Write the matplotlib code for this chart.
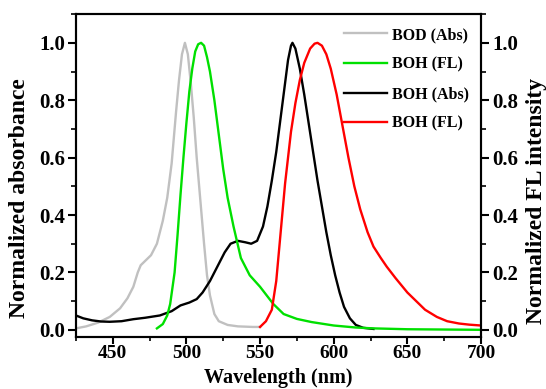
import matplotlib
matplotlib.use("Agg")
import matplotlib.pyplot as plt
from matplotlib.ticker import MultipleLocator

# ---------- data ----------
bod_abs_x = [425, 432, 440, 448, 455, 460, 464, 467, 469, 472, 476, 480, 484, 487, 490,
             493, 495, 497, 499, 501, 503, 505, 507, 510, 512, 514, 516, 519, 522, 528,
             535, 545, 550]
bod_abs_y = [0.005, 0.012, 0.025, 0.045, 0.075, 0.11, 0.15, 0.2, 0.225, 0.24, 0.26, 0.3,
             0.38, 0.46, 0.58, 0.76, 0.87, 0.96, 1.0, 0.96, 0.86, 0.74, 0.6, 0.42, 0.3,
             0.19, 0.12, 0.055, 0.03, 0.017, 0.012, 0.01, 0.01]

boh_fl1_x = [480, 484, 487, 489, 492, 494, 496, 498, 500, 502, 504, 506, 508, 510, 512,
             514, 516, 519, 522, 525, 528, 532, 537, 543, 550, 559, 566, 575, 585, 600,
             615, 627, 650, 700]
boh_fl1_y = [0.005, 0.02, 0.05, 0.09, 0.2, 0.33, 0.47, 0.6, 0.72, 0.83, 0.91, 0.97, 0.995,
             1.0, 0.99, 0.95, 0.9, 0.8, 0.68, 0.56, 0.46, 0.36, 0.25, 0.19, 0.15, 0.09,
             0.055, 0.038, 0.027, 0.015, 0.008, 0.005, 0.002, 0.0]

boh_abs_x = [425, 430, 436, 442, 448, 456, 464, 472, 482, 490, 496, 502, 507, 511, 516,
             521, 526, 530, 535, 540, 544, 548, 552, 555, 558, 561, 564, 567, 569, 571,
             572, 574, 577, 580, 583, 586, 589, 592, 595, 598, 601, 604, 607, 611, 615,
             620, 627]
boh_abs_y = [0.05, 0.04, 0.033, 0.029, 0.028, 0.03, 0.037, 0.042, 0.05, 0.065, 0.085,
             0.095, 0.107, 0.13, 0.17, 0.22, 0.27, 0.3, 0.31, 0.305, 0.3, 0.31, 0.36,
             0.43, 0.52, 0.62, 0.74, 0.86, 0.94, 0.99, 1.0, 0.98, 0.91, 0.82, 0.72, 0.62,
             0.52, 0.43, 0.34, 0.26, 0.19, 0.13, 0.08, 0.04, 0.017, 0.007, 0.003]

boh_fl2_x = [550, 554, 558, 561, 564, 567, 571, 574, 577, 580, 584, 587, 589, 592, 595,
             598, 602, 606, 610, 614, 618, 623, 627, 632, 636, 642, 650, 656, 662, 670,
             677, 685, 692, 700]
boh_fl2_y = [0.01, 0.03, 0.07, 0.17, 0.34, 0.51, 0.69, 0.79, 0.87, 0.93, 0.98, 0.997, 1.0,
             0.99, 0.96, 0.91, 0.82, 0.71, 0.6, 0.5, 0.42, 0.34, 0.29, 0.25, 0.22, 0.18,
             0.13, 0.1, 0.07, 0.045, 0.03, 0.022, 0.018, 0.015]

labels = ['BOD (Abs)', 'BOH (FL)', 'BOH (Abs)', 'BOH (FL)']
colors = ['#c0c0c0', '#00e000', '#000000', '#ff0000']
yticks = [0.0, 0.2, 0.4, 0.6, 0.8, 1.0]

# ---------- figure ----------
plt.rcParams['font.family'] = ['Liberation Serif', 'DejaVu Serif']
plt.rcParams['font.weight'] = 'bold'

fig = plt.figure(figsize=(5.46, 3.89), dpi=100)
ax = fig.add_axes([0.139, 0.1337, 0.742, 0.830])
ax2 = ax.twinx()

l1, = ax.plot(bod_abs_x, bod_abs_y, color=colors[0], lw=1.7, label=labels[0])
l2, = ax2.plot(boh_fl1_x, boh_fl1_y, color=colors[1], lw=1.7, label=labels[1])
l3, = ax.plot(boh_abs_x, boh_abs_y, color=colors[2], lw=1.7, label=labels[2])
l4, = ax2.plot(boh_fl2_x, boh_fl2_y, color=colors[3], lw=1.7, label=labels[3])

for a in (ax, ax2):
    a.set_xlim(425, 700)
    a.set_ylim(-0.025, 1.1)
    a.set_yticks(yticks)
    a.set_yticklabels(['%.1f' % v for v in yticks], fontweight='bold')
    a.yaxis.set_minor_locator(MultipleLocator(0.1))
    a.tick_params(which='major', length=6, width=1.5, labelsize=15, direction='out', pad=2)
    a.tick_params(which='minor', length=3.5, width=1.2, direction='out')
    for s in a.spines.values():
        s.set_linewidth(1.5)

ax.xaxis.set_major_locator(MultipleLocator(50))
ax.xaxis.set_minor_locator(MultipleLocator(25))
ax.tick_params(axis='x', which='major', length=5, pad=1, labelsize=14)
ax.tick_params(axis='x', which='minor', length=3)
for t in ax.get_xticklabels():
    t.set_fontweight('bold')

ax.set_xlabel('Wavelength (nm)', fontsize=14.5, fontweight='bold')
ax.xaxis.label.set_va('bottom')
ax.xaxis.set_label_coords(0.5, -0.158)
ax.set_ylabel('Normalized absorbance', fontsize=17, fontweight='bold')
ax2.set_ylabel('Normalized FL intensity', fontsize=17, fontweight='bold')
ax.yaxis.set_label_coords(-0.113, 0.43)
ax2.yaxis.set_label_coords(1.112, 0.42)

leg = ax2.legend(handles=[l1, l2, l3, l4], loc='upper right', frameon=False,
                 prop={'size': 11.5, 'weight': 'bold'}, handlelength=2.7,
                 handletextpad=0.3, labelspacing=0.85, borderaxespad=0.0,
                 bbox_to_anchor=(0.985, 0.98))

fig.savefig('out.png', dpi=100)
